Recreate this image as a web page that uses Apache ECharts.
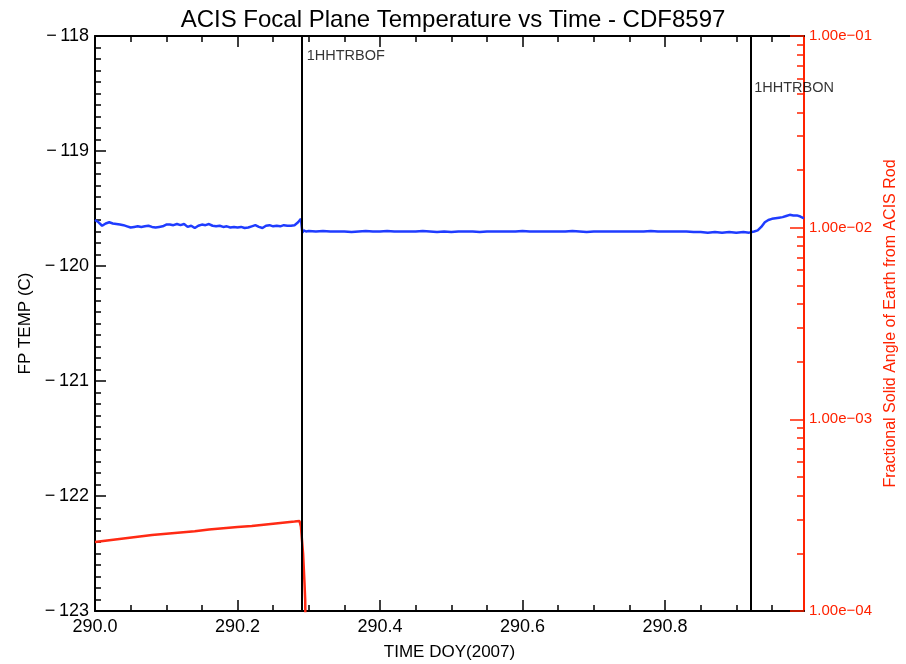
<!DOCTYPE html>
<html>
<head>
<meta charset="utf-8">
<script src="https://cdn.jsdelivr.net/npm/echarts@6/dist/echarts.min.js"></script>
<style>
html,body{margin:0;padding:0;background:#fff;}
#chart{width:906px;height:664px;}
</style>
</head>
<body>
<div id="chart"></div>
<script>
// ---- Data ----
const titleText = 'ACIS Focal Plane Temperature vs Time - CDF8597';
const xName = 'TIME DOY(2007)';
const yLeftName = 'FP TEMP (C)';
const yRightName = 'Fractional Solid Angle of Earth from ACIS Rod';

// Focal plane temperature (blue)
const blueTime = [
  290.000,290.005,290.010,290.015,290.020,290.025,290.030,290.035,290.040,290.045,
  290.050,290.055,290.060,290.065,290.070,290.075,290.080,290.085,290.090,290.095,
  290.100,290.105,290.110,290.115,290.120,290.125,290.130,290.135,290.140,290.145,
  290.150,290.155,290.160,290.165,290.170,290.175,290.180,290.185,290.190,290.195,
  290.200,290.205,290.210,290.215,290.220,290.225,290.230,290.235,290.240,290.245,
  290.250,290.255,290.260,290.265,290.270,290.275,290.280,290.285,290.289,290.291,
  290.293,290.296,
  290.30,290.31,290.32,290.33,290.34,290.35,290.36,290.37,290.38,290.39,
  290.40,290.41,290.42,290.43,290.44,290.45,290.46,290.47,290.48,290.49,
  290.50,290.51,290.52,290.53,290.54,290.55,290.56,290.57,290.58,290.59,
  290.60,290.61,290.62,290.63,290.64,290.65,290.66,290.67,290.68,290.69,
  290.70,290.71,290.72,290.73,290.74,290.75,290.76,290.77,290.78,290.79,
  290.80,290.81,290.82,290.83,290.84,290.85,290.86,290.87,290.88,290.89,
  290.90,290.91,290.918,
  290.925,290.930,290.935,290.940,290.945,290.950,290.955,290.960,290.965,290.970,
  290.975,290.980,290.985,290.990,290.995
];
const blueTemp = [
  -119.60,-119.62,-119.65,-119.63,-119.62,-119.63,-119.635,-119.64,-119.645,-119.655,
  -119.665,-119.66,-119.655,-119.66,-119.655,-119.65,-119.66,-119.665,-119.66,-119.655,
  -119.64,-119.64,-119.645,-119.635,-119.645,-119.635,-119.66,-119.65,-119.67,-119.65,
  -119.64,-119.645,-119.635,-119.65,-119.655,-119.65,-119.66,-119.655,-119.665,-119.66,
  -119.665,-119.66,-119.67,-119.665,-119.655,-119.645,-119.66,-119.67,-119.65,-119.645,
  -119.655,-119.65,-119.655,-119.645,-119.65,-119.65,-119.645,-119.62,-119.59,-119.71,
  -119.69,-119.70,
  -119.695,-119.70,-119.695,-119.70,-119.70,-119.70,-119.705,-119.70,-119.695,-119.70,
  -119.70,-119.695,-119.70,-119.70,-119.70,-119.70,-119.695,-119.70,-119.705,-119.70,
  -119.705,-119.70,-119.70,-119.70,-119.705,-119.70,-119.70,-119.70,-119.70,-119.70,
  -119.695,-119.70,-119.70,-119.70,-119.70,-119.70,-119.70,-119.695,-119.70,-119.705,
  -119.70,-119.70,-119.70,-119.70,-119.70,-119.70,-119.70,-119.70,-119.695,-119.70,
  -119.70,-119.70,-119.70,-119.70,-119.705,-119.705,-119.71,-119.705,-119.71,-119.705,
  -119.71,-119.705,-119.71,
  -119.70,-119.69,-119.66,-119.62,-119.60,-119.59,-119.585,-119.58,-119.575,-119.565,
  -119.555,-119.56,-119.56,-119.57,-119.585
];

// Fractional solid angle of Earth (red, log axis)
const redTime = [
  290.00,290.02,290.04,290.06,290.08,290.10,290.12,290.14,290.16,290.18,
  290.20,290.22,290.24,290.26,290.28,290.287,290.289,290.292,290.294,290.295,290.2965
];
const redFrac = [
  2.29e-4,2.34e-4,2.39e-4,2.44e-4,2.49e-4,2.53e-4,2.57e-4,2.61e-4,2.66e-4,2.70e-4,
  2.74e-4,2.78e-4,2.83e-4,2.88e-4,2.93e-4,2.95e-4,2.75e-4,2.0e-4,1.4e-4,1.14e-4,3e-5
];

// Events (vertical lines)
const eventTimes = [290.290, 290.918];
const eventNames = ['1HHTRBOF', '1HHTRBON'];

// Axis ranges / ticks
const xMin = 290.0, xMax = 290.995;
const xMajorTicks = [290.0, 290.2, 290.4, 290.6, 290.8];
const xMinorTicks = [290.05,290.1,290.15,290.25,290.3,290.35,290.45,290.5,290.55,290.65,290.7,290.75,290.85,290.9,290.95];
const tempMin = -123, tempMax = -118;
const fracMin = 1e-4, fracMax = 1e-1;

// ---- Layout (styles kept out of data) ----
const eventLabelTemp = [-118.17, -118.45];
const FONT = 'Liberation Sans';
const BLACK = '#000000';
const RED = '#ff2200';

// minor log ticks positions (in log10 space for an overlaid helper axis)
const logMinor = [];
for (let e = -4; e < -1; e++) for (let k = 2; k <= 9; k++) logMinor.push(Math.log10(k) + e);

function fmtTemp(v) { return v < 0 ? '\u2212\u2009' + Math.abs(v) : String(v); }
function fmtExp(v) {
  const s = Number(v).toExponential(2);
  const m = s.match(/^(.*)e([+-])(\d+)$/);
  const ex = m[3].length < 2 ? '0' + m[3] : m[3];
  return m[1] + 'e' + (m[2] === '-' ? '\u2212' : '+') + ex;
}

const chart = echarts.init(document.getElementById('chart'), null, {renderer: 'canvas'});
const grid = {left: 95, right: 102, top: 36, bottom: 53, containLabel: false, outerBoundsMode: 'none'};

const option = {
  animation: false,
  backgroundColor: '#fff',
  title: {
    text: titleText, left: 'center', top: 3,
    textStyle: {fontFamily: FONT, fontSize: 24, fontWeight: 'normal', color: BLACK}
  },
  grid: grid,
  xAxis: [
    { type: 'value', position: 'bottom', min: xMin, max: xMax, interval: 0.2,
      axisLine: {show: true, onZero: false, lineStyle: {color: BLACK, width: 2}},
      axisTick: {show: true, inside: true, length: 11, customValues: xMajorTicks, lineStyle: {color: BLACK, width: 1.5}},
      axisLabel: {show: true, customValues: xMajorTicks, formatter: v => Number(v).toFixed(1), color: BLACK, fontFamily: FONT, fontSize: 18, margin: 7},
      splitLine: {show: false},
      name: xName, nameLocation: 'middle', nameGap: 33,
      nameTextStyle: {fontFamily: FONT, fontSize: 17, color: BLACK}
    },
    { type: 'value', position: 'bottom', min: xMin, max: xMax,
      axisLine: {show: false}, axisLabel: {show: false}, splitLine: {show: false},
      axisTick: {show: true, inside: true, length: 6, customValues: xMinorTicks, lineStyle: {color: BLACK, width: 1.5}}
    },
    { type: 'value', position: 'top', min: xMin, max: xMax,
      axisLine: {show: true, onZero: false, lineStyle: {color: BLACK, width: 2}},
      axisLabel: {show: false}, splitLine: {show: false},
      axisTick: {show: true, inside: true, length: 11, customValues: xMajorTicks, lineStyle: {color: BLACK, width: 1.5}}
    },
    { type: 'value', position: 'top', min: xMin, max: xMax,
      axisLine: {show: false}, axisLabel: {show: false}, splitLine: {show: false},
      axisTick: {show: true, inside: true, length: 6, customValues: xMinorTicks, lineStyle: {color: BLACK, width: 1.5}}
    }
  ],
  yAxis: [
    { type: 'value', position: 'left', min: tempMin, max: tempMax, interval: 1,
      axisLine: {show: true, onZero: false, lineStyle: {color: BLACK, width: 2}},
      axisTick: {show: true, inside: true, length: 11, lineStyle: {color: BLACK, width: 1.5}},
      minorTick: {show: true, splitNumber: 10, length: 6, lineStyle: {color: BLACK, width: 1.5}},
      axisLabel: {formatter: fmtTemp, color: BLACK, fontFamily: FONT, fontSize: 18, margin: 6},
      splitLine: {show: false}, minorSplitLine: {show: false},
      name: yLeftName, nameLocation: 'middle', nameGap: 52, nameRotate: 90,
      nameTextStyle: {fontFamily: FONT, fontSize: 17, color: BLACK}
    },
    { type: 'log', logBase: 10, position: 'right', min: fracMin, max: fracMax, splitNumber: 3,
      axisLine: {show: true, onZero: false, lineStyle: {color: RED, width: 2}},
      axisTick: {show: true, inside: true, length: 14, lineStyle: {color: RED, width: 1.5}},
      axisLabel: {formatter: fmtExp, color: RED, fontFamily: FONT, fontSize: 15, margin: 5},
      splitLine: {show: false},
      name: yRightName, nameLocation: 'middle', nameGap: 73, nameRotate: 90,
      nameTextStyle: {fontFamily: FONT, fontSize: 16, color: RED}
    },
    { type: 'value', position: 'right', min: -4, max: -1,
      axisLine: {show: false}, axisLabel: {show: false}, splitLine: {show: false},
      axisTick: {show: true, inside: true, length: 7, customValues: logMinor, lineStyle: {color: RED, width: 1.5}}
    }
  ],
  series: [
    { name: 'FP TEMP', type: 'line', xAxisIndex: 0, yAxisIndex: 0,
      data: blueTime.map((t, i) => [t, blueTemp[i]]),
      showSymbol: false, symbol: 'none', clip: true,
      lineStyle: {color: '#1f3cff', width: 2.5}, itemStyle: {color: '#1f3cff'},
      markLine: {
        silent: true, symbol: ['none', 'none'], animation: false,
        label: {show: false},
        lineStyle: {color: BLACK, width: 2, type: 'solid'},
        data: eventTimes.map(t => ({xAxis: t}))
      },
      z: 2
    },
    { name: 'Earth', type: 'line', xAxisIndex: 0, yAxisIndex: 1,
      data: redTime.map((t, i) => [t, redFrac[i]]),
      showSymbol: false, symbol: 'none', clip: true,
      lineStyle: {color: '#ff2a14', width: 2.5}, itemStyle: {color: '#ff2a14'},
      z: 3
    },
    { name: 'events', type: 'scatter', xAxisIndex: 0, yAxisIndex: 0,
      symbolSize: 0, silent: true,
      data: eventTimes.map((t, i) => ({value: [t, eventLabelTemp[i]], name: eventNames[i]})),
      label: {show: true, position: 'right', distance: 5, formatter: p => p.name,
        color: BLACK, fontFamily: FONT, fontSize: 14.5},
      z: 5
    }
  ]
};
chart.setOption(option);
</script>
</body>
</html>
